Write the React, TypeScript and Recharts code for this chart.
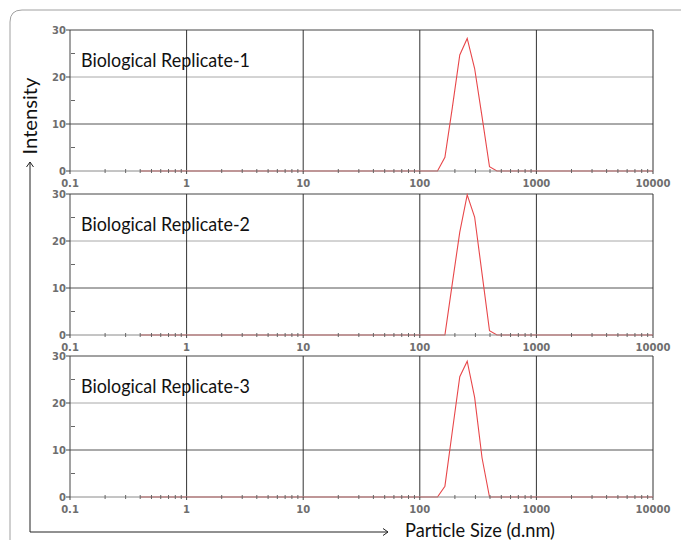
import React from 'react';
import { LineChart, Line, XAxis, YAxis, ReferenceLine } from 'recharts';

// Particle size bins (d.nm) where the distribution is sampled
const sizeBins = [0.4, 141.8, 164.2, 190.1, 220.2, 255.0, 295.3, 342.0, 396.1, 458.7, 10000];
// Intensity (%) for each replicate
const replicate1 = [0, 0, 2.9, 13.5, 24.7, 28.2, 21.8, 11.5, 0.9, 0, 0];
const replicate2 = [0, 0, 0, 11.0, 21.9, 29.8, 25.1, 13.0, 0.9, 0, 0];
const replicate3 = [0, 0, 2.3, 14.0, 25.6, 28.9, 21.2, 8.3, 0, 0, 0];
const titles = ['Biological Replicate-1', 'Biological Replicate-2', 'Biological Replicate-3'];

const decadeTicks = [0.1, 1, 10, 100, 1000, 10000];
const decadeLabels = ['0.1', '1', '10', '100', '1000', '10000'];
const minorTicks = [
  0.2, 0.3, 0.4, 0.5, 0.6, 0.7, 0.8, 0.9,
  2, 3, 4, 5, 6, 7, 8, 9,
  20, 30, 40, 50, 60, 70, 80, 90,
  200, 300, 400, 500, 600, 700, 800, 900,
  2000, 3000, 4000, 5000, 6000, 7000, 8000, 9000,
];
const yMajorTicks = [0, 10, 20, 30];
const yMinorTicks = [5, 15, 25];

const xTicks = [...decadeTicks, ...minorTicks].sort((a, b) => a - b);
const yTicks = [...yMajorTicks, ...yMinorTicks].sort((a, b) => a - b);

const panelTops = [30, 194, 356];
const PLOT_H = 141;

const tickFont = { fontFamily: 'DejaVu Sans', fontSize: 10, fontWeight: 700, fill: '#6e6e6e' } as const;

const XTick = (props: any) => {
  const { x, y, payload } = props;
  const v = payload.value;
  const idx = decadeTicks.indexOf(v);
  if (idx >= 0) {
    return (
      <g>
        <line x1={x} x2={x} y1={y} y2={y + 3} stroke="#444" />
        <text x={x} y={y + 15.5} textAnchor="middle" {...tickFont}>{decadeLabels[idx]}</text>
      </g>
    );
  }
  return <line x1={x} x2={x} y1={y - 2} y2={y + 2} stroke="#666" />;
};

const YTick = (props: any) => {
  const { x, y, payload } = props;
  const v = payload.value;
  if (yMajorTicks.indexOf(v) >= 0) {
    return (
      <g>
        <line x1={x - 4} x2={x} y1={y} y2={y} stroke="#444" />
        <text x={x - 4} y={y + 4} textAnchor="end" {...tickFont}>{String(v)}</text>
      </g>
    );
  }
  return <line x1={x + 1} x2={x + 5} y1={y} y2={y} stroke="#666" />;
};

function Panel({ values, top }: { values: number[]; top: number }) {
  const data = sizeBins.map((s, i) => ({ size: s, intensity: values[i] }));
  return (
    <div style={{ position: 'absolute', left: 0, top: top - 10, width: 681, height: 10 + PLOT_H + 22 }}>
      <LineChart width={681} height={10 + PLOT_H + 22} data={data} margin={{ top: 10, right: 28, bottom: 0, left: 0 }}>
        <XAxis
          dataKey="size"
          type="number"
          scale="log"
          domain={[0.1, 10000]}
          ticks={xTicks}
          interval={0}
          tickSize={0}
          tickMargin={0}
          tickLine={false}
          tick={<XTick />}
          axisLine={{ stroke: '#8a8a8a' }}
          height={22}
          allowDataOverflow
        />
        <YAxis
          type="number"
          domain={[0, 30]}
          ticks={yTicks}
          interval={0}
          tickSize={0}
          tickMargin={0}
          tickLine={false}
          tick={<YTick />}
          axisLine={{ stroke: '#444' }}
          width={70}
        />
        <ReferenceLine y={10} stroke="#555" />
        <ReferenceLine y={20} stroke="#a8a8a8" />
        <ReferenceLine y={30} stroke="#444" />
        {decadeTicks.slice(1).map((d) => (
          <ReferenceLine key={d} x={d} stroke="#333" />
        ))}
        <Line
          type="linear"
          dataKey="intensity"
          stroke="#e8474a"
          strokeWidth={1.1}
          dot={false}
          isAnimationActive={false}
        />
      </LineChart>
    </div>
  );
}

export default function App() {
  const reps = [replicate1, replicate2, replicate3];
  return (
    <div style={{ position: 'absolute', left: 0, top: 0, width: 681, height: 540, background: '#fff', overflow: 'hidden' }}>
      <svg width={681} height={540} style={{ position: 'absolute', left: 0, top: 0 }}>
        <path d="M10,540 L10,22 Q10,10 22,10 L681,10" fill="none" stroke="#a0a0a0" strokeWidth={1} />
      </svg>
      {reps.map((r, i) => (
        <Panel key={i} values={r} top={panelTops[i]} />
      ))}
      <svg width={681} height={540} style={{ position: 'absolute', left: 0, top: 0, pointerEvents: 'none' }}>
        {titles.map((t, i) => (
          <text
            key={t}
            x={81}
            y={panelTops[i] + 36.5}
            fontFamily="Lato"
            fontSize={19}
            fill="#111"
            textLength={169}
            lengthAdjust="spacingAndGlyphs"
          >
            {t}
          </text>
        ))}
        {/* vertical axis arrow */}
        <line x1={30} y1={532} x2={30} y2={162} stroke="#222" strokeWidth={1} />
        <polyline points="26.5,167 30,162 33.5,167" fill="none" stroke="#222" strokeWidth={1} />
        <text
          x={37}
          y={116}
          transform="rotate(-90 37 116)"
          textAnchor="middle"
          fontFamily="Lato"
          fontSize={19}
          fill="#111"
          textLength={77}
          lengthAdjust="spacingAndGlyphs"
        >
          Intensity
        </text>
        {/* horizontal axis arrow */}
        <line x1={30} y1={532} x2={388} y2={532} stroke="#222" strokeWidth={1} />
        <polyline points="383,528.5 388,532 383,535.5" fill="none" stroke="#222" strokeWidth={1} />
        <text
          x={405}
          y={536.5}
          fontFamily="Lato"
          fontSize={19}
          fill="#111"
          textLength={150}
          lengthAdjust="spacingAndGlyphs"
        >
          Particle Size (d.nm)
        </text>
      </svg>
    </div>
  );
}
